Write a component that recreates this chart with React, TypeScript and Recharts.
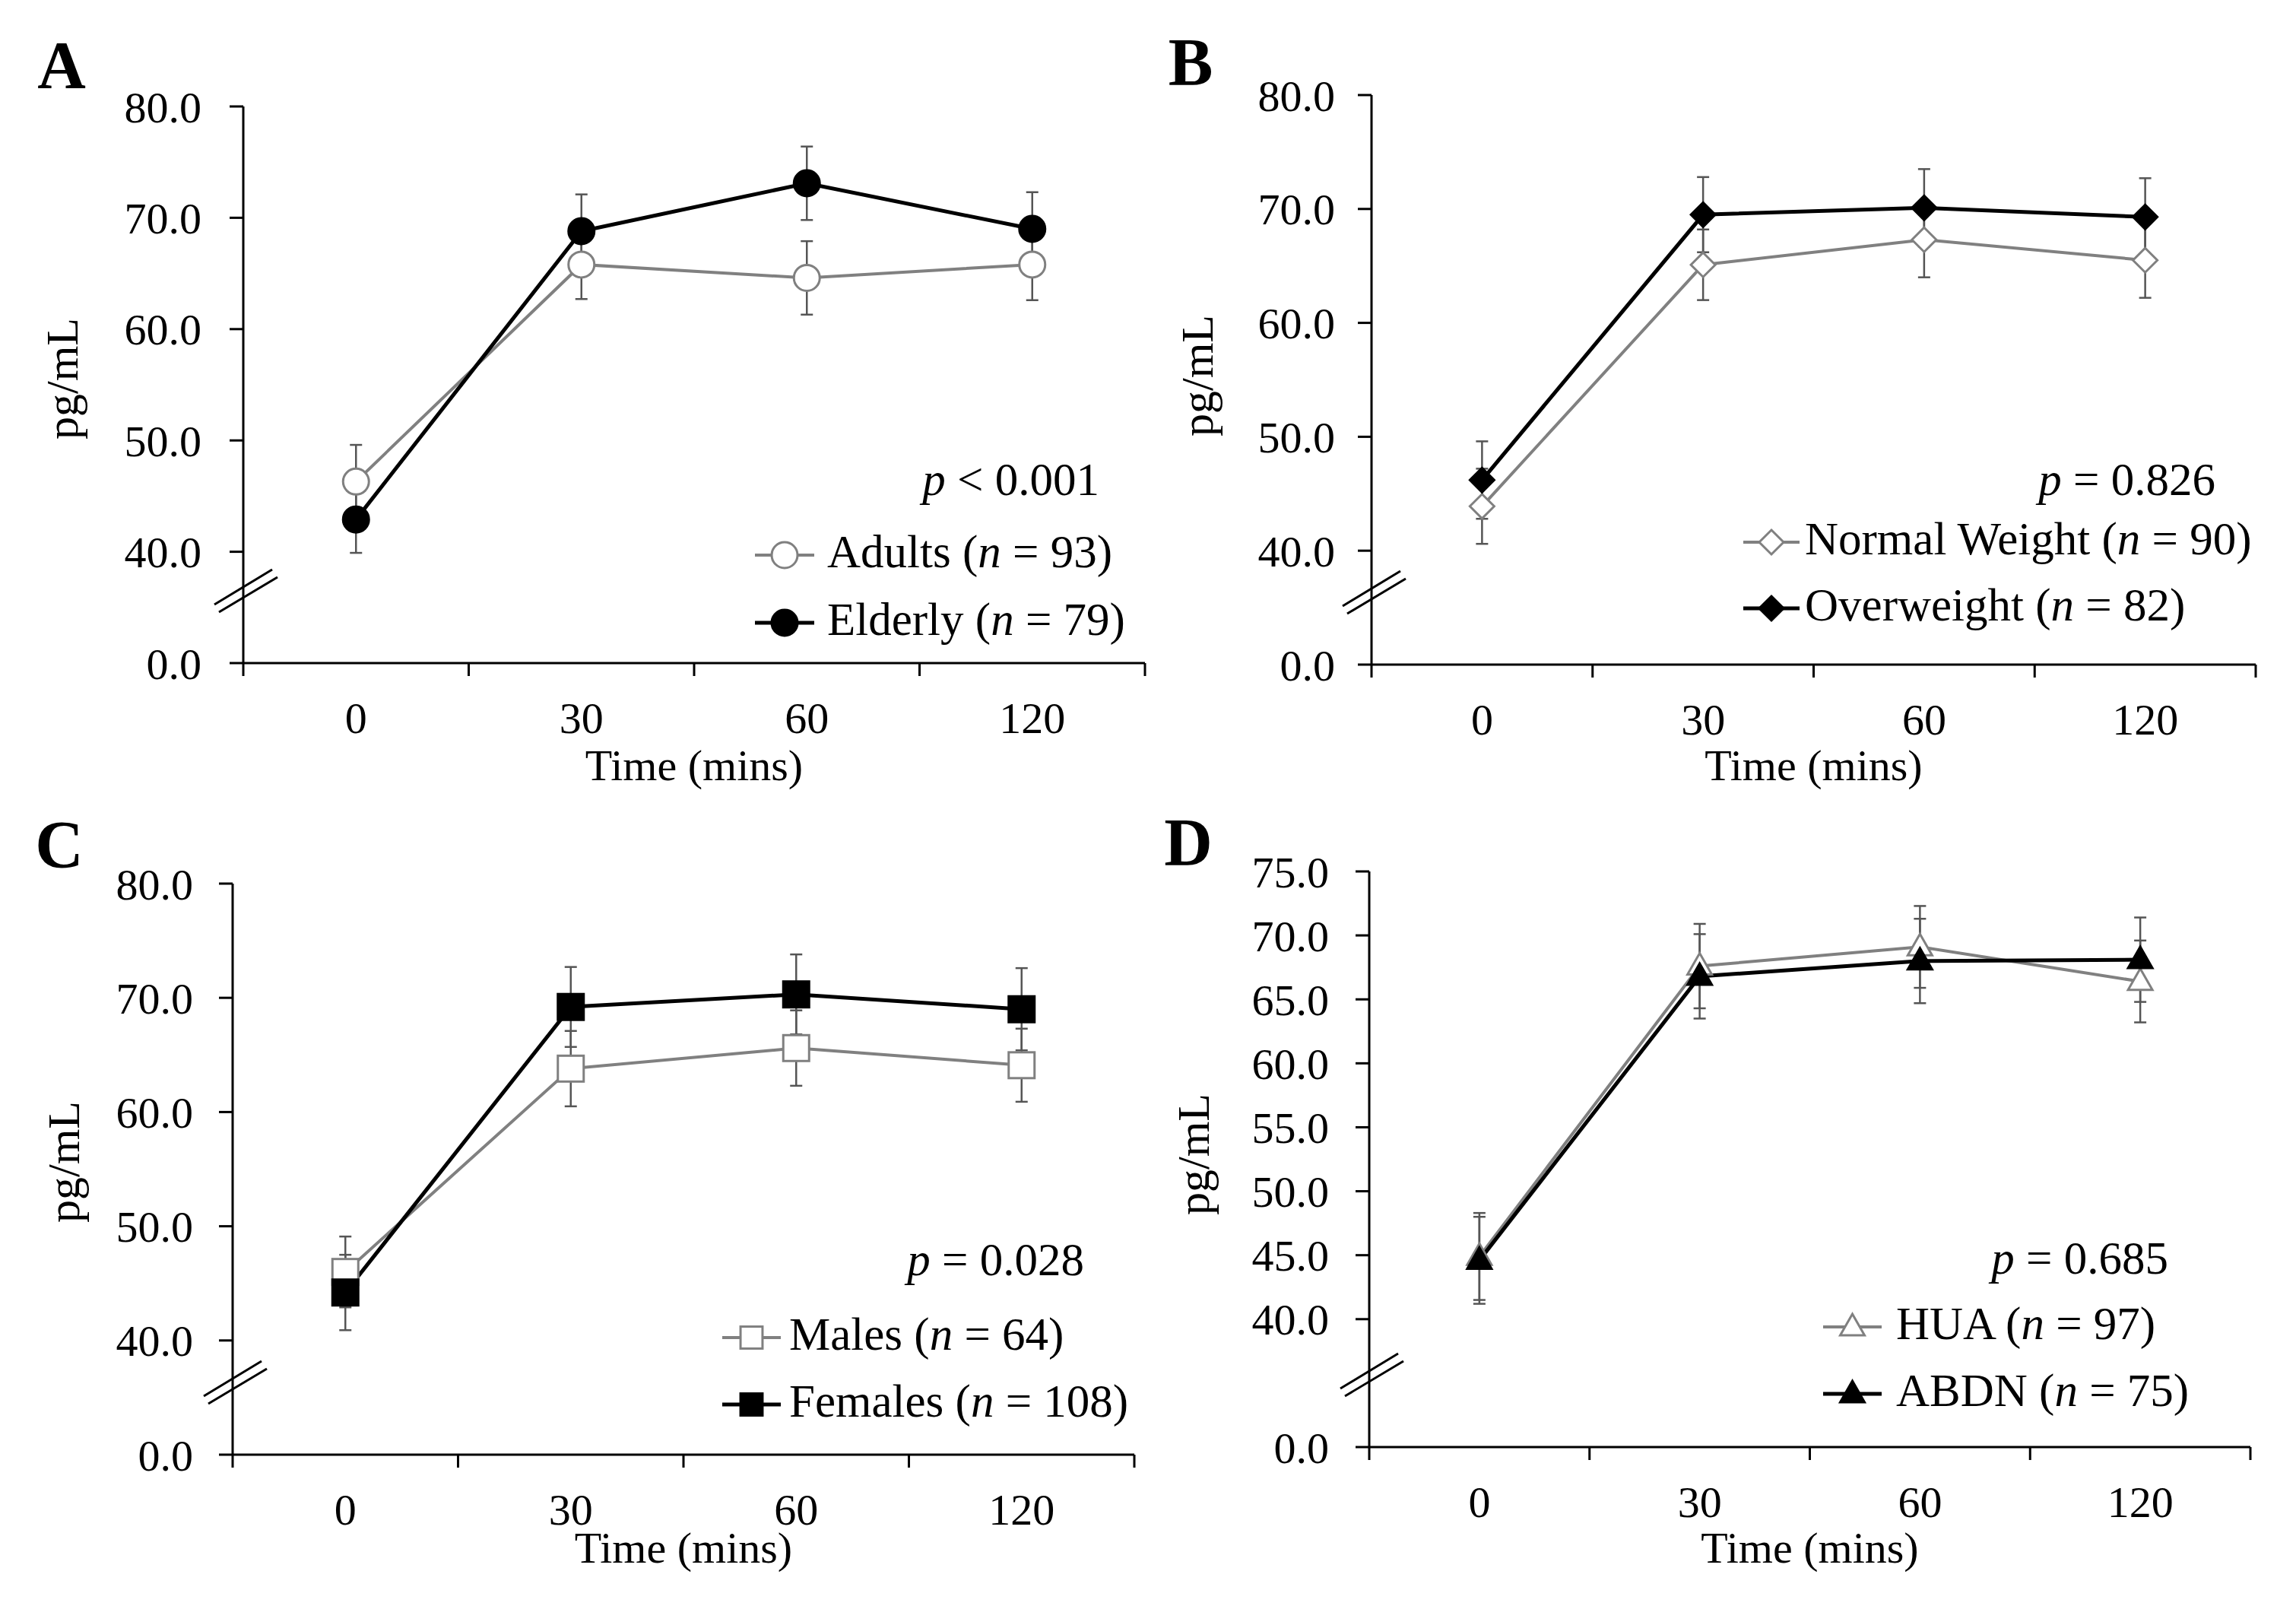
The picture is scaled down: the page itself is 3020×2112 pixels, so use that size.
import React from "react";
import { LineChart, Line, XAxis, YAxis, ErrorBar } from "recharts";

const FONT = "'Liberation Serif', 'Times New Roman', serif";
const GRAY = "#808080";
const BAR = "#555555";

// time points (categories)
const timeLabels = ["0", "30", "60", "120"];
const timeIndex = [0, 1, 2, 3];
// boundaries + centres on the numeric x axis
const xTicks = [-0.5, 0, 0.5, 1, 1.5, 2, 2.5, 3, 3.5];

const yTicksTen = [30, 40, 50, 60, 70, 80];
const yTicksFive = [30, 40, 45, 50, 55, 60, 65, 70, 75];

// A: age
const adultsMean = [46.3, 65.8, 64.6, 65.8];
const adultsErr = [3.3, 3.1, 3.3, 3.2];
const elderlyMean = [42.9, 68.8, 73.1, 69.0];
const elderlyErr = [3.0, 3.3, 3.3, 3.3];

// B: weight
const normalMean = [43.9, 65.1, 67.3, 65.5];
const normalErr = [3.3, 3.1, 3.3, 3.3];
const overMean = [46.2, 69.5, 70.1, 69.3];
const overErr = [3.4, 3.3, 3.4, 3.4];

// C: sex
const malesMean = [46.0, 63.8, 65.6, 64.1];
const malesErr = [3.1, 3.3, 3.3, 3.2];
const femalesMean = [44.2, 69.2, 70.3, 69.0];
const femalesErr = [3.3, 3.5, 3.5, 3.6];

// D: site
const huaMean = [44.9, 67.6, 69.1, 66.4];
const huaErr = [3.4, 3.3, 3.2, 3.2];
const abdnMean = [44.6, 66.8, 68.0, 68.1];
const abdnErr = [3.4, 3.3, 3.3, 3.3];

const W = 1510;
const H = 1056;
const YW = 100;
const XH = 100;

type Shape = "circle" | "diamond" | "square" | "triangle";

function Marker({ cx, cy, shape, filled, scale = 1 }: any) {
  const fill = filled ? "#000" : "#fff";
  const stroke = filled ? "#000" : GRAY;
  const sw = 3;
  if (shape === "circle") {
    return <circle cx={cx} cy={cy} r={17 * scale} fill={fill} stroke={stroke} strokeWidth={sw} />;
  }
  if (shape === "diamond") {
    const h = 16 * scale;
    return (
      <polygon
        points={`${cx},${cy - h} ${cx + h},${cy} ${cx},${cy + h} ${cx - h},${cy}`}
        fill={fill}
        stroke={stroke}
        strokeWidth={sw}
      />
    );
  }
  if (shape === "square") {
    const h = 17 * scale;
    return <rect x={cx - h} y={cy - h} width={2 * h} height={2 * h} fill={fill} stroke={stroke} strokeWidth={sw} />;
  }
  const w = 16 * scale;
  return (
    <polygon
      points={`${cx},${cy - 17 * scale} ${cx + w},${cy + 11 * scale} ${cx - w},${cy + 11 * scale}`}
      fill={fill}
      stroke={stroke}
      strokeWidth={sw}
    />
  );
}

const panels = [
  {
    name: "A",
    left: 0,
    top: 0,
    plotL: 320,
    plotR: 1506,
    plotT: 140,
    plotB: 872,
    domain: [30, 80],
    yTicks: yTicksTen,
    yGap: 37,
    shape: "circle" as Shape,
    gray: { mean: adultsMean, err: adultsErr, label: "Adults", n: "93" },
    black: { mean: elderlyMean, err: elderlyErr, label: "Elderly", n: "79" },
    pText: "< 0.001",
    letter: [81, 115],
    yTitle: [102, 498],
    xTitleY: 1026,
    pPos: [1446, 651],
    legX: [993, 1071, 1088],
    legRows: [746, 835],
  },
  {
    name: "B",
    left: 1510,
    top: 0,
    plotL: 294,
    plotR: 1457,
    plotT: 125,
    plotB: 874,
    domain: [30, 80],
    yTicks: yTicksTen,
    yGap: 30,
    shape: "diamond" as Shape,
    gray: { mean: normalMean, err: normalErr, label: "Normal Weight", n: "90" },
    black: { mean: overMean, err: overErr, label: "Overweight", n: "82" },
    pText: "= 0.826",
    letter: [56, 111],
    yTitle: [85, 494],
    xTitleY: 1026,
    pPos: [1404, 651],
    legX: [783, 857, 864],
    legRows: [729, 816],
  },
  {
    name: "C",
    left: 0,
    top: 1056,
    plotL: 306,
    plotR: 1492,
    plotT: 106,
    plotB: 857,
    domain: [30, 80],
    yTicks: yTicksTen,
    yGap: 34,
    shape: "square" as Shape,
    gray: { mean: malesMean, err: malesErr, label: "Males", n: "64" },
    black: { mean: femalesMean, err: femalesErr, label: "Females", n: "108" },
    pText: "= 0.028",
    letter: [78, 84],
    yTitle: [104, 472],
    xTitleY: 999,
    pPos: [1426, 621],
    legX: [950, 1027, 1038],
    legRows: [719, 807],
  },
  {
    name: "D",
    left: 1510,
    top: 1056,
    plotL: 291,
    plotR: 1450,
    plotT: 90,
    plotB: 847,
    domain: [30, 75],
    yTicks: yTicksFive,
    yGap: 35,
    shape: "triangle" as Shape,
    gray: { mean: huaMean, err: huaErr, label: "HUA", n: "97" },
    black: { mean: abdnMean, err: abdnErr, label: "ABDN", n: "75" },
    pText: "= 0.685",
    letter: [53, 81],
    yTitle: [80, 462],
    xTitleY: 999,
    pPos: [1342, 619],
    legX: [888, 965, 984],
    legRows: [705, 793],
  },
];

function Panel({ cfg }: any) {
  const rows = timeIndex.map((t, i) => ({
    t,
    gm: cfg.gray.mean[i],
    ge: cfg.gray.err[i],
    bm: cfg.black.mean[i],
    be: cfg.black.err[i],
  }));
  const tickSize = 18;

  const renderXTick = (p: any) => {
    const v = p.payload.value;
    const axisY = p.y;
    if (Number.isInteger(v)) {
      return (
        <text x={p.x} y={axisY + 92} textAnchor="middle" fontSize={58} fontFamily={FONT} fill="#000">
          {timeLabels[v]}
        </text>
      );
    }
    return <line x1={p.x} y1={axisY} x2={p.x} y2={axisY + 17} stroke="#000" strokeWidth={3} />;
  };

  const renderYTick = (p: any) => {
    const v = p.payload.value;
    const axisX = p.x + tickSize + cfg.yGap;
    return (
      <g>
        <text x={p.x} y={p.y} dy="0.355em" textAnchor="end" fontSize={58} fontFamily={FONT} fill="#000">
          {v === 30 ? "0.0" : v.toFixed(1)}
        </text>
        {v === 30 && (
          <g stroke="#000" strokeWidth={3}>
            <line x1={axisX - 38} y1={p.y - 77} x2={axisX + 38} y2={p.y - 123} />
            <line x1={axisX - 32} y1={p.y - 67} x2={axisX + 45} y2={p.y - 113} />
          </g>
        )}
      </g>
    );
  };

  const dotFor = (filled: boolean) => (p: any) => (
    <g key={`d${filled ? "b" : "g"}${p.index}`}>
      <Marker cx={p.cx} cy={p.cy} shape={cfg.shape} filled={filled} />
    </g>
  );

  const legendRow = (s: any, filled: boolean, baseline: number) => {
    const cy = baseline - 16;
    const [x0, x1, tx] = cfg.legX;
    return (
      <g>
        <line x1={x0} y1={cy} x2={x1} y2={cy} stroke={filled ? "#000" : GRAY} strokeWidth={filled ? 5 : 4} />
        <Marker cx={(x0 + x1) / 2} cy={cy} shape={cfg.shape} filled={filled} scale={cfg.shape === "square" ? 0.85 : 1} />
        <text x={tx} y={baseline} fontSize={61}>
          <tspan>{s.label} (</tspan>
          <tspan fontStyle="italic">n</tspan>
          <tspan> = {s.n})</tspan>
        </text>
      </g>
    );
  };

  return (
    <div style={{ position: "absolute", left: cfg.left, top: cfg.top, width: W, height: H }}>
      <LineChart
        width={W}
        height={H}
        data={rows}
        margin={{
          top: cfg.plotT,
          left: cfg.plotL - YW,
          right: W - cfg.plotR,
          bottom: H - cfg.plotB - XH,
        }}
      >
        <XAxis
          type="number"
          dataKey="t"
          domain={[-0.5, 3.5]}
          ticks={xTicks}
          interval={0}
          height={XH}
          tickSize={0}
          tickMargin={0}
          tickLine={false}
          axisLine={{ stroke: "#000", strokeWidth: 3 }}
          tick={renderXTick}
          allowDecimals
        />
        <YAxis
          type="number"
          domain={cfg.domain}
          ticks={cfg.yTicks}
          interval={0}
          width={YW}
          tickSize={tickSize}
          tickMargin={cfg.yGap}
          tickLine={{ stroke: "#000", strokeWidth: 3 }}
          axisLine={{ stroke: "#000", strokeWidth: 3 }}
          tick={renderYTick}
          allowDataOverflow
        />
        <Line
          dataKey="gm"
          stroke={GRAY}
          strokeWidth={4}
          dot={dotFor(false)}
          activeDot={false}
          isAnimationActive={false}
        >
          <ErrorBar dataKey="ge" width={8} strokeWidth={2.5} stroke={BAR} direction="y" />
        </Line>
        <Line
          dataKey="bm"
          stroke="#000"
          strokeWidth={5}
          dot={dotFor(true)}
          activeDot={false}
          isAnimationActive={false}
        >
          <ErrorBar dataKey="be" width={8} strokeWidth={2.5} stroke={BAR} direction="y" />
        </Line>
      </LineChart>
      <svg
        width={W}
        height={H}
        style={{ position: "absolute", left: 0, top: 0, pointerEvents: "none" }}
        fontFamily={FONT}
        fill="#000"
      >
        <text x={cfg.letter[0]} y={cfg.letter[1]} textAnchor="middle" fontSize={88} fontWeight="bold">
          {cfg.name}
        </text>
        <text
          transform={`translate(${cfg.yTitle[0]},${cfg.yTitle[1]}) rotate(-90)`}
          textAnchor="middle"
          fontSize={60}
        >
          pg/mL
        </text>
        <text x={(cfg.plotL + cfg.plotR) / 2} y={cfg.xTitleY} textAnchor="middle" fontSize={58}>
          Time (mins)
        </text>
        <text x={cfg.pPos[0]} y={cfg.pPos[1]} textAnchor="end" fontSize={61}>
          <tspan fontStyle="italic">p</tspan>
          <tspan> {cfg.pText}</tspan>
        </text>
        {legendRow(cfg.gray, false, cfg.legRows[0])}
        {legendRow(cfg.black, true, cfg.legRows[1])}
      </svg>
    </div>
  );
}

export default function App() {
  return (
    <div style={{ position: "absolute", left: 0, top: 0, width: 3020, height: 2112, background: "#fff" }}>
      {panels.map((cfg) => (
        <Panel key={cfg.name} cfg={cfg} />
      ))}
    </div>
  );
}
